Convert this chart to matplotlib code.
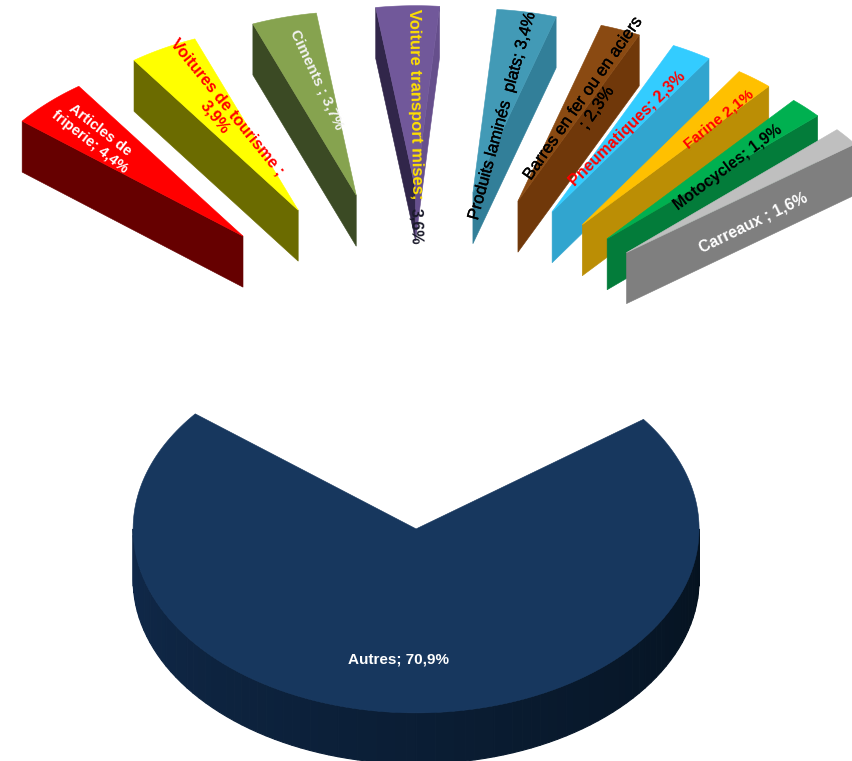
# Exploded 3D pie chart - main imported goods

import numpy as np
import matplotlib
matplotlib.use("Agg")
import matplotlib.pyplot as plt
from matplotlib.patches import Polygon
import matplotlib.patheffects as pe

plt.rcParams['font.family'] = ['Liberation Sans', 'DejaVu Sans']

# ------------------------------------
# Data
# ------------------------------------

categories = ['Autres', 'Articles de friperie', 'Voitures de tourisme', 'Ciments',
              'Voiture transport mises', 'Produits laminés plats',
              'Barres en fer ou en aciers', 'Pneumatiques', 'Farine',
              'Motocycles', 'Carreaux']
values = [70.9, 4.4, 3.9, 3.7, 3.6, 3.4, 2.3, 2.3, 2.1, 1.9, 1.6]

labels = ['Autres; 70,9%', 'Articles de\nfriperie; 4,4%', 'Voitures de tourisme ;\n3,9%',
          'Ciments ; 3,7%', 'Voiture transport mises;', 'Produits laminés  plats; 3,4%',
          'Barres en fer ou en aciers\n; 2,3%', 'Pneumatiques; 2,3%', 'Farine 2,1%',
          'Motocycles; 1,9%', 'Carreaux ; 1,6%']

# ------------------------------------
# Styles
# ------------------------------------

top_colors = ['#17375e', '#ff0000', '#ffff00', '#86a34f', '#71589a', '#429ab6',
              '#8a4a12', '#33ccff', '#ffc000', '#00b050', '#bfbfbf']
wall_colors = ['#0c2038', '#660000', '#6b6b00', '#3b4a24', '#31264a', '#327f99',
               '#70380a', '#31a5cf', '#bb8e05', '#037c3a', '#7f7f7f']
text_colors = ['white', 'white', 'red', '#f2f2f2', '#ffe000', 'black',
               'black', 'red', 'red', 'black', 'white']

label_x = [399, 95, 221, 317, 415, 502, 590, 627, 719, 728, 753]
label_y = [660, 136, 112, 80, 104, 116, 103, 129, 119, 167, 223]
label_rot = [0, -38, -51, -65, -89, 74.5, 55, 44.5, 39, 37, 26]
label_size = [11, 10.5, 11.8, 11, 12, 12, 12.2, 11.5, 11, 11.3, 11.3]
label_bold = [True, True, True, True, True, False, False, True, True, True, True]

# pie geometry, in pixels
cx, cy = 423, 360
big_cx, big_cy = 422, 360
rx, ry = 283, 184
explode = 0.926
explode_big = 0.918
depth = 51
start = 141.3


def pt(angle, radius=1.0, ox=0.0, oy=0.0):
    a = np.radians(angle)
    return np.column_stack((ox + rx * radius * np.cos(a), oy - ry * radius * np.sin(a)))


fig = plt.figure(figsize=(8.52, 7.61), dpi=100)
ax = fig.add_axes([0, 0, 1, 1])
ax.set_xlim(0, 852)
ax.set_ylim(761, 0)
ax.axis('off')

# ------------------------------------
# Slices: clockwise from the left edge of the first small slice
# ------------------------------------

a0 = start
for i in range(1, len(values)):
    a1 = a0 - values[i] * 3.6
    mid = np.radians((a0 + a1) / 2)
    ox = cx + explode * rx * np.cos(mid)
    oy = cy - explode * ry * np.sin(mid)
    tip = np.array([[ox, oy]])
    down = np.array([0, depth])

    # radial walls that face the viewer
    for edge, visible in ((a0, a0 > 90), (a1, a1 < 90)):
        if visible:
            p = pt(np.array([edge]), 1.0, ox, oy)
            wall = np.vstack((tip, p, p + down, tip + down))
            c = wall_colors[i]
            # transport slice: its right wall is nearly the colour of the top
            if a0 > 90 and a1 < 90 and edge == a1:
                c = '#664f8c'
            ax.add_patch(Polygon(wall, closed=True, fc=c, ec=c, lw=0.4))

    arc = pt(np.linspace(a0, a1, 30), 1.0, ox, oy)
    ax.add_patch(Polygon(np.vstack((tip, arc)), closed=True, fc=top_colors[i],
                         ec=top_colors[i], lw=0.4))
    a0 = a1

# ------------------------------------
# Autres: big slice, thrown towards the bottom
# ------------------------------------

a_left = start
a_right = start + values[0] * 3.6
mid = np.radians((a_left + a_right) / 2)
ox = big_cx + explode_big * rx * np.cos(mid) - 0.5
ox = ox - 0.5
oy = big_cy - explode_big * ry * np.sin(mid)

# outer wall in strips, a bit lighter on the left
angles = np.linspace(180, 360, 91)
shade_left = np.array(matplotlib.colors.to_rgb('#10294a'))
shade_right = np.array(matplotlib.colors.to_rgb('#05121f'))
for j in range(len(angles) - 1):
    seg = pt(np.array([angles[j], angles[j + 1]]), 1.0, ox, oy)
    strip = np.vstack((seg, seg[::-1] + [0, depth]))
    f = j / (len(angles) - 2)
    c = shade_left * (1 - f) + shade_right * f
    ax.add_patch(Polygon(strip, closed=True, fc=c, ec=c, lw=0.8))

arc = pt(np.linspace(a_left, a_right, 200), 1.0, ox, oy)
ax.add_patch(Polygon(np.vstack(([[ox, oy]], arc)), closed=True, fc=top_colors[0],
                     ec=top_colors[0], lw=0.4))

# ------------------------------------
# Labels
# ------------------------------------

for i in range(len(labels)):
    t = ax.text(label_x[i], label_y[i], labels[i], color=text_colors[i],
                fontsize=label_size[i], rotation=label_rot[i], rotation_mode='anchor',
                fontweight='bold' if label_bold[i] else 'normal',
                ha='center', va='center', linespacing=1.15, multialignment='center')
    if not label_bold[i]:
        t.set_path_effects([pe.withStroke(linewidth=0.25, foreground=text_colors[i])])

# tail of the transport label sits below the slice, in dark
ax.text(416, 226, '3,6%', color='#1a1a2a', fontsize=11.5, fontweight='bold',
        rotation=-89, rotation_mode='anchor', ha='center', va='center')

fig.savefig('out.png', dpi=100)
